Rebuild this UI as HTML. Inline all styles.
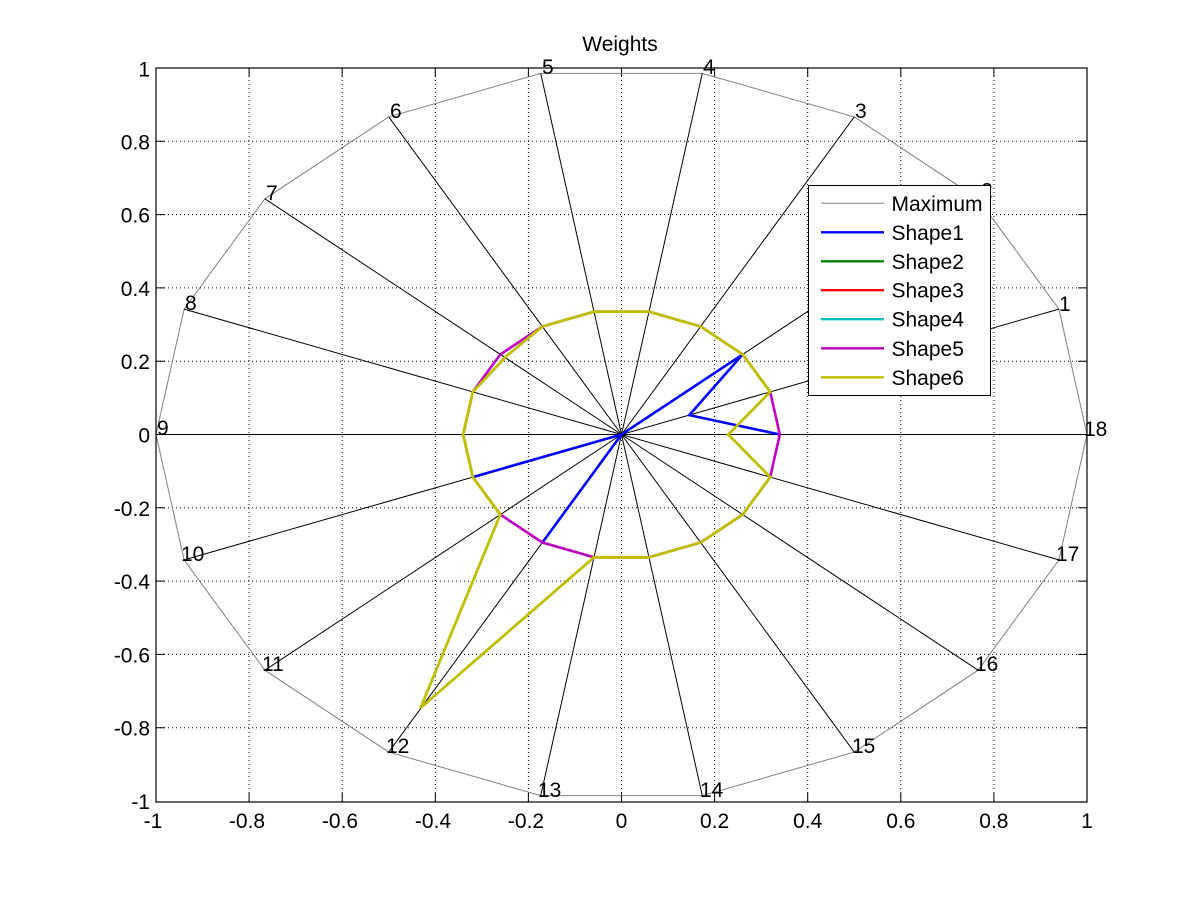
<!DOCTYPE html>
<html><head><meta charset="utf-8">
<style>
html,body{margin:0;padding:0;background:#fff;}
svg{display:block;}
text{font-family:"Liberation Sans",Arial,sans-serif;font-size:21px;fill:#000;}
</style></head>
<body>
<svg width="1201" height="901" viewBox="0 0 1201 901" xmlns="http://www.w3.org/2000/svg">
<rect x="0" y="0" width="1201" height="901" fill="#fff"/>
<!-- grid -->
<g stroke="#000" stroke-width="1" stroke-dasharray="1,3" fill="none">
<line x1="249.1" y1="68" x2="249.1" y2="802"/>
<line x1="342.2" y1="68" x2="342.2" y2="802"/>
<line x1="435.3" y1="68" x2="435.3" y2="802"/>
<line x1="528.4" y1="68" x2="528.4" y2="802"/>
<line x1="621.5" y1="68" x2="621.5" y2="802"/>
<line x1="714.6" y1="68" x2="714.6" y2="802"/>
<line x1="807.7" y1="68" x2="807.7" y2="802"/>
<line x1="900.8" y1="68" x2="900.8" y2="802"/>
<line x1="993.9" y1="68" x2="993.9" y2="802"/>
<line x1="156" y1="141.3" x2="1087" y2="141.3"/>
<line x1="156" y1="214.6" x2="1087" y2="214.6"/>
<line x1="156" y1="287.9" x2="1087" y2="287.9"/>
<line x1="156" y1="361.2" x2="1087" y2="361.2"/>
<line x1="156" y1="434.5" x2="1087" y2="434.5"/>
<line x1="156" y1="507.8" x2="1087" y2="507.8"/>
<line x1="156" y1="581.1" x2="1087" y2="581.1"/>
<line x1="156" y1="654.4" x2="1087" y2="654.4"/>
<line x1="156" y1="727.7" x2="1087" y2="727.7"/>
</g>
<!-- ticks -->
<g stroke="#000" stroke-width="1">
<path d="M249.1 68v9M342.2 68v9M435.3 68v9M528.4 68v9M621.5 68v9M714.6 68v9M807.7 68v9M900.8 68v9M993.9 68v9"/>
<path d="M249.1 802v-9M342.2 802v-9M435.3 802v-9M528.4 802v-9M621.5 802v-9M714.6 802v-9M807.7 802v-9M900.8 802v-9M993.9 802v-9"/>
<path d="M156 141.3h9M156 214.6h9M156 287.9h9M156 361.2h9M156 434.5h9M156 507.8h9M156 581.1h9M156 654.4h9M156 727.7h9"/>
<path d="M1087 141.3h-9M1087 214.6h-9M1087 287.9h-9M1087 361.2h-9M1087 434.5h-9M1087 507.8h-9M1087 581.1h-9M1087 654.4h-9M1087 727.7h-9"/>
</g>
<!-- maximum polygon -->
<polygon fill="none" stroke="#808080" stroke-width="1" points="1058.9,309.1 978.1,198.8 854.25,116.9 702.3,73.4 540.7,73.4 388.75,116.9 264.9,198.8 184.1,309.1 156,434.5 184.1,559.9 264.9,670.2 388.75,752.1 540.7,795.6 702.3,795.6 854.25,752.1 978.1,670.2 1058.9,559.9 1087,434.5"/>
<!-- spokes -->
<g stroke="#000" stroke-width="1">
<line x1="621.5" y1="434.5" x2="1058.9" y2="309.1"/>
<line x1="621.5" y1="434.5" x2="978.1" y2="198.8"/>
<line x1="621.5" y1="434.5" x2="854.25" y2="116.9"/>
<line x1="621.5" y1="434.5" x2="702.3" y2="73.4"/>
<line x1="621.5" y1="434.5" x2="540.7" y2="73.4"/>
<line x1="621.5" y1="434.5" x2="388.75" y2="116.9"/>
<line x1="621.5" y1="434.5" x2="264.9" y2="198.8"/>
<line x1="621.5" y1="434.5" x2="184.1" y2="309.1"/>
<line x1="621.5" y1="434.5" x2="156" y2="434.5"/>
<line x1="621.5" y1="434.5" x2="184.1" y2="559.9"/>
<line x1="621.5" y1="434.5" x2="264.9" y2="670.2"/>
<line x1="621.5" y1="434.5" x2="388.75" y2="752.1"/>
<line x1="621.5" y1="434.5" x2="540.7" y2="795.6"/>
<line x1="621.5" y1="434.5" x2="702.3" y2="795.6"/>
<line x1="621.5" y1="434.5" x2="854.25" y2="752.1"/>
<line x1="621.5" y1="434.5" x2="978.1" y2="670.2"/>
<line x1="621.5" y1="434.5" x2="1058.9" y2="559.9"/>
<line x1="621.5" y1="434.5" x2="1087" y2="434.5"/>
</g>
<!-- axes box -->
<rect x="156" y="68" width="931" height="734" fill="none" stroke="#000" stroke-width="1.2"/>
<!-- Shape1 blue -->
<g fill="none" stroke="#0000ff" stroke-width="2.6" stroke-linejoin="miter">
<polyline points="472.8,477.1 621.5,434.5 542.4,542.5"/>
<polyline points="621.5,434.5 742.7,354.4 689.3,415.1 779.8,434.5"/>
</g>
<!-- Shape5 magenta -->
<polygon fill="none" stroke="#bf00bf" stroke-width="2.6" points="770.2,391.9 742.7,354.4 700.6,326.5 649.0,311.7 594.0,311.7 542.4,326.5 500.3,354.4 472.8,391.9 463.2,434.5 472.8,477.1 500.3,514.6 542.4,542.5 594.0,557.3 649.0,557.3 700.6,542.5 742.7,514.6 770.2,477.1 779.8,434.5"/>
<!-- Shape6 yellow -->
<polygon fill="none" stroke="#bfbf00" stroke-width="2.8" points="770.2,391.9 742.7,354.4 700.6,326.5 649.0,311.7 594.0,311.7 542.4,326.5 506.5,356 472.8,391.9 463.2,434.5 472.8,477.1 500.3,514.6 420.5,708 594.0,557.3 649.0,557.3 700.6,542.5 742.7,514.6 770.2,477.1 728.3,434.5"/>
<!-- vertex labels -->
<g>
<text x="1059" y="311">1</text>
<text x="981" y="197.5">2</text>
<text x="855" y="118">3</text>
<text x="703" y="74">4</text>
<text x="542" y="74">5</text>
<text x="390" y="118">6</text>
<text x="266" y="200">7</text>
<text x="185" y="310">8</text>
<text x="157" y="435">9</text>
<text x="181" y="561">10</text>
<text x="262" y="671">11</text>
<text x="386" y="753">12</text>
<text x="538" y="797">13</text>
<text x="700" y="797">14</text>
<text x="852" y="753">15</text>
<text x="975" y="671">16</text>
<text x="1056" y="561">17</text>
<text x="1084" y="436">18</text>
</g>
<!-- title -->
<text x="620" y="51" text-anchor="middle">Weights</text>
<!-- x tick labels -->
<g text-anchor="middle">
<text x="153" y="828">-1</text>
<text x="247" y="828">-0.8</text>
<text x="340" y="828">-0.6</text>
<text x="433" y="828">-0.4</text>
<text x="526" y="828">-0.2</text>
<text x="621.5" y="828">0</text>
<text x="714.6" y="828">0.2</text>
<text x="807.7" y="828">0.4</text>
<text x="900.8" y="828">0.6</text>
<text x="993.9" y="828">0.8</text>
<text x="1087" y="828">1</text>
</g>
<!-- y tick labels -->
<g text-anchor="end">
<text x="150" y="76.5">1</text>
<text x="150" y="149.3">0.8</text>
<text x="150" y="222.6">0.6</text>
<text x="150" y="295.9">0.4</text>
<text x="150" y="369.2">0.2</text>
<text x="150" y="442.5">0</text>
<text x="150" y="515.8">-0.2</text>
<text x="150" y="589.1">-0.4</text>
<text x="150" y="662.4">-0.6</text>
<text x="150" y="735.7">-0.8</text>
<text x="150" y="809">-1</text>
</g>
<!-- legend -->
<rect x="808.5" y="185.5" width="182" height="210" fill="#fff" stroke="#000" stroke-width="1"/>
<g stroke-width="2.3">
<line x1="821" y1="203.3" x2="884" y2="203.3" stroke="#808080" stroke-width="1"/>
<line x1="821" y1="232.3" x2="884" y2="232.3" stroke="#0000ff"/>
<line x1="821" y1="261.3" x2="884" y2="261.3" stroke="#008000"/>
<line x1="821" y1="290.2" x2="884" y2="290.2" stroke="#ff0000"/>
<line x1="821" y1="319.2" x2="884" y2="319.2" stroke="#00bfbf"/>
<line x1="821" y1="348.3" x2="884" y2="348.3" stroke="#bf00bf"/>
<line x1="821" y1="377.3" x2="884" y2="377.3" stroke="#bfbf00"/>
</g>
<g>
<text x="891.5" y="210.8">Maximum</text>
<text x="891.5" y="239.8">Shape1</text>
<text x="891.5" y="268.8">Shape2</text>
<text x="891.5" y="297.7">Shape3</text>
<text x="891.5" y="326.7">Shape4</text>
<text x="891.5" y="355.8">Shape5</text>
<text x="891.5" y="384.8">Shape6</text>
</g>
</svg>
</body></html>
